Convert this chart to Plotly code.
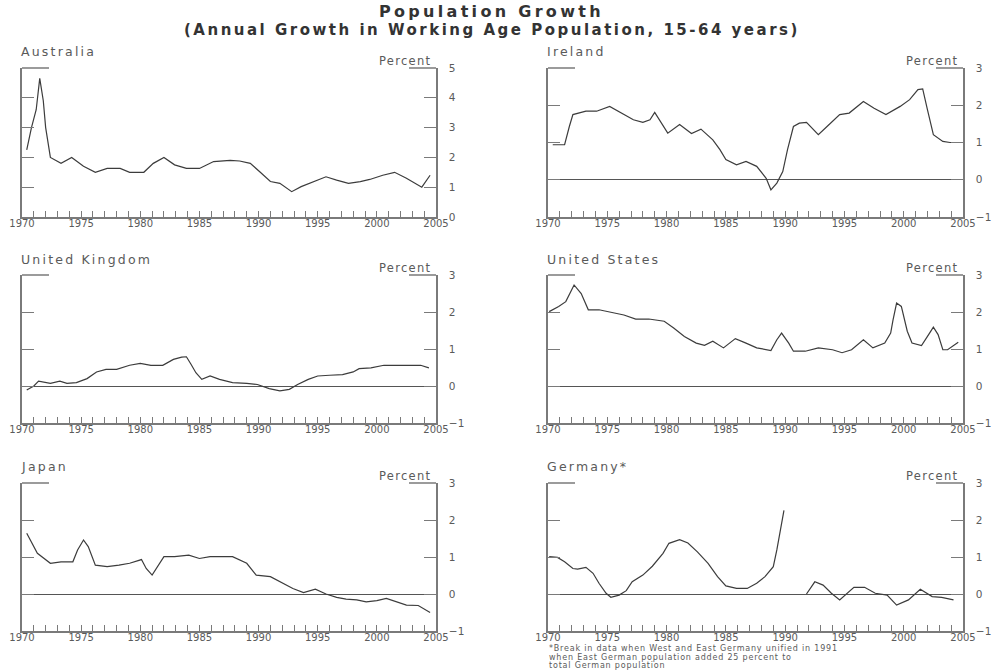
import plotly.graph_objects as go

# ---- Data: annual growth in working-age population (percent), time in years ----
australia_t = [1970.4, 1970.8, 1971.2, 1971.5, 1971.8, 1972.0, 1972.4, 1973.3, 1974.2, 1975.2,
               1976.2, 1977.2, 1978.3, 1979.1, 1980.3, 1981.1, 1982.0, 1982.9, 1983.9, 1985.0,
               1986.2, 1987.6, 1988.4, 1989.3, 1990.1, 1991.0, 1991.8, 1992.8, 1993.6, 1994.6,
               1995.7, 1996.6, 1997.6, 1998.6, 1999.4, 2000.5, 2001.5, 2002.5, 2003.5, 2003.8,
               2004.5]
australia_v = [2.25, 3.0, 3.6, 4.65, 3.9, 3.0, 2.0, 1.8, 2.0, 1.7,
               1.5, 1.63, 1.63, 1.5, 1.5, 1.8, 2.0, 1.75, 1.63, 1.63,
               1.86, 1.9, 1.88, 1.8, 1.52, 1.19, 1.13, 0.85, 1.02, 1.19,
               1.35, 1.24, 1.13, 1.19, 1.26, 1.4, 1.5, 1.3, 1.07, 1.0,
               1.4]

ireland_t = [1970.4, 1971.4, 1971.8, 1972.1, 1973.2, 1974.1, 1975.2, 1976.2, 1977.2, 1978.0,
             1978.6, 1979.0, 1979.4, 1980.1, 1981.1, 1982.1, 1982.9, 1983.9, 1984.5, 1985.0,
             1985.9, 1986.7, 1987.6, 1988.4, 1988.8, 1989.3, 1989.8, 1990.2, 1990.7, 1991.2,
             1991.8, 1992.8, 1993.6, 1994.6, 1995.4, 1996.6, 1997.5, 1998.5, 1999.7, 2000.5,
             2001.2, 2001.6, 2002.0, 2002.5, 2003.3, 2003.9, 2004.7]
ireland_v = [0.94, 0.94, 1.43, 1.75, 1.84, 1.84, 1.97, 1.79, 1.61, 1.54,
             1.61, 1.81, 1.61, 1.25, 1.48, 1.24, 1.36, 1.07, 0.81, 0.54,
             0.4, 0.49, 0.36, 0.04, -0.27, -0.09, 0.22, 0.81, 1.43, 1.52,
             1.54, 1.21, 1.45, 1.75, 1.79, 2.1, 1.92, 1.75, 1.97, 2.15,
             2.42, 2.44, 1.88, 1.21, 1.03, 1.0, 1.0]

uk_t = [1970.4, 1971.0, 1971.4, 1971.8, 1972.4, 1973.2, 1973.8, 1974.6, 1975.5, 1976.3,
        1977.1, 1978.0, 1979.1, 1980.0, 1980.9, 1981.9, 1982.8, 1983.5, 1983.9, 1984.3,
        1984.7, 1985.2, 1985.9, 1986.7, 1987.8, 1989.0, 1989.9, 1990.9, 1991.8, 1992.6,
        1993.3, 1994.2, 1995.0, 1996.0, 1997.1, 1998.0, 1998.5, 1999.5, 2000.6, 2001.6,
        2002.8, 2003.7, 2004.4]
uk_v = [-0.11, 0.0, 0.13, 0.11, 0.07, 0.13, 0.07, 0.09, 0.2, 0.38,
        0.45, 0.45, 0.56, 0.61, 0.56, 0.56, 0.72, 0.78, 0.79, 0.58,
        0.36, 0.18, 0.27, 0.18, 0.09, 0.07, 0.04, -0.07, -0.13, -0.09,
        0.04, 0.18, 0.27, 0.29, 0.31, 0.38, 0.47, 0.49, 0.56, 0.56,
        0.56, 0.56, 0.49]

us_t = [1970.1, 1970.9, 1971.5, 1972.2, 1972.8, 1973.4, 1974.3, 1975.5, 1976.4, 1977.4,
        1978.5, 1979.8, 1980.6, 1981.5, 1982.5, 1983.2, 1983.9, 1984.8, 1985.8, 1986.7,
        1987.6, 1988.8, 1989.3, 1989.7, 1990.3, 1990.7, 1991.7, 1992.8, 1994.0, 1994.8,
        1995.6, 1996.6, 1997.4, 1998.4, 1998.9, 1999.1, 1999.4, 1999.8, 2000.3, 2000.7,
        2001.5, 2002.1, 2002.5, 2002.9, 2003.3, 2003.7, 2004.6]
us_v = [2.01, 2.15, 2.28, 2.73, 2.5, 2.06, 2.06, 1.99, 1.92, 1.81,
        1.81, 1.75, 1.57, 1.34, 1.16, 1.1, 1.21, 1.03, 1.28, 1.16,
        1.03, 0.96, 1.25, 1.43, 1.16, 0.94, 0.94, 1.03, 0.98, 0.9,
        0.98, 1.25, 1.03, 1.16, 1.43, 1.79, 2.24, 2.15, 1.48, 1.16,
        1.09, 1.39, 1.59, 1.39, 0.98, 0.98, 1.18]

japan_t = [1970.4, 1971.0, 1971.3, 1972.4, 1973.3, 1974.3, 1974.7, 1975.2, 1975.6, 1976.2,
           1977.2, 1978.2, 1979.1, 1980.1, 1980.5, 1981.0, 1981.5, 1982.0, 1982.9, 1984.1,
           1985.0, 1985.9, 1986.9, 1987.8, 1989.0, 1989.8, 1991.0, 1992.1, 1992.9, 1993.8,
           1994.8, 1995.7, 1996.6, 1997.4, 1998.3, 1999.1, 2000.0, 2000.8, 2001.7, 2002.5,
           2003.5, 2003.9, 2004.5]
japan_v = [1.64, 1.28, 1.1, 0.83, 0.87, 0.87, 1.19, 1.46, 1.28, 0.78,
           0.74, 0.78, 0.83, 0.93, 0.69, 0.51, 0.78, 1.01, 1.01, 1.05,
           0.96, 1.01, 1.01, 1.01, 0.83, 0.51, 0.47, 0.29, 0.15, 0.04,
           0.13, 0.0, -0.09, -0.14, -0.16, -0.21, -0.18, -0.12, -0.21, -0.3,
           -0.31, -0.39, -0.5]

# Germany: series breaks at unification (None leaves the gap)
germany_t = [1970.1, 1970.8, 1971.4, 1972.1, 1972.5, 1973.2, 1973.8, 1974.3, 1974.9, 1975.3,
             1976.0, 1976.6, 1977.1, 1978.0, 1978.8, 1979.7, 1980.2, 1981.1, 1981.8, 1982.6,
             1983.5, 1984.3, 1985.0, 1985.9, 1986.8, 1987.6, 1988.3, 1989.0, 1989.3, 1989.5,
             1989.7, 1989.9, 1990.9,
             1991.8, 1992.5, 1993.2, 1993.9, 1994.6, 1995.2, 1995.8, 1996.7, 1997.6, 1998.6,
             1999.4, 2000.4, 2001.4, 2002.4, 2003.2, 2004.2]
germany_v = [1.01, 0.99, 0.87, 0.69, 0.67, 0.72, 0.56, 0.29, 0.02, -0.09,
             -0.03, 0.09, 0.33, 0.51, 0.75, 1.1, 1.37, 1.47, 1.38, 1.14,
             0.83, 0.47, 0.22, 0.15, 0.15, 0.29, 0.47, 0.74, 1.19, 1.55,
             1.99, 2.26, None,
             0.0, 0.33, 0.24, 0.02, -0.16, 0.0, 0.18, 0.18, 0.02, -0.03,
             -0.3, -0.16, 0.13, -0.07, -0.09, -0.16]

panel_names = ["Australia", "Ireland", "United Kingdom", "United States", "Japan", "Germany*"]
panel_t = [australia_t, ireland_t, uk_t, us_t, japan_t, germany_t]
panel_v = [australia_v, ireland_v, uk_v, us_v, japan_v, germany_v]
panel_yrange = [(0, 5), (-1, 3), (-1, 3), (-1, 3), (-1, 3), (-1, 3)]
year_ticks = list(range(1970, 2006, 5))

footnote_lines = ["*Break in data when West and East Germany unified in 1991",
                  "when East German population added 25 percent to",
                  "total German population"]

# ---- Layout geometry (pixels in a 996 x 671 page) ----
W, H = 996, 671
col_x = [(22, 436), (548, 963)]
row_y = [(68, 217), (275, 423), (483, 631)]

AXIS_COL = "#7a7a7a"
TEXT_COL = "#5a5a5a"
LINE_COL = "#3c3c3c"
FONT = "DejaVu Sans"


def spaced(text, px):
    """Wrap text in a span with extra letter spacing (wide lettering)."""
    return f'<span style="letter-spacing:{px}px">{text}</span>'


fig = go.Figure()
layout = dict(
    template="none",
    width=W, height=H,
    margin=dict(l=0, r=0, t=0, b=0, pad=0),
    paper_bgcolor="white", plot_bgcolor="white",
    showlegend=False,
    font=dict(family=FONT, color=TEXT_COL),
)
annotations = []
shapes = []

for i, name in enumerate(panel_names):
    r, c = divmod(i, 2)
    x0, x1 = col_x[c]
    ytop, ybot = row_y[r]
    xd = [x0 / W, x1 / W]
    yd = [1 - ybot / H, 1 - ytop / H]
    n = i + 1
    sfx = "" if n == 1 else str(n)
    xa, ya = f"x{sfx}", f"y{sfx}"
    fig.add_trace(go.Scatter(
        x=panel_t[i], y=panel_v[i], mode="lines",
        line=dict(color=LINE_COL, width=1.2),
        connectgaps=False, xaxis=xa, yaxis=ya, hoverinfo="skip",
    ))
    lo, hi = panel_yrange[i]
    layout[f"xaxis{sfx}"] = dict(
        domain=xd, anchor=ya, range=[1970, 2005], automargin=False,
        tickvals=year_ticks, ticktext=[str(y) for y in year_ticks],
        ticks="inside", ticklen=6, tickcolor=AXIS_COL, tickwidth=1,
        minor=dict(dtick=1, tick0=1970, ticks="inside", ticklen=6,
                   tickcolor=AXIS_COL, tickwidth=1, showgrid=False),
        showline=True, linecolor=AXIS_COL, linewidth=1.5, mirror=False,
        showgrid=False, zeroline=False,
        tickfont=dict(size=10, color=TEXT_COL, family=FONT),
        ticklabelstandoff=-4,
        fixedrange=True,
    )
    layout[f"yaxis{sfx}"] = dict(
        domain=yd, anchor=xa, side="right", range=[lo, hi], automargin=False,
        tickvals=list(range(lo, hi + 1)),
        ticks="inside", ticklen=12, tickcolor=AXIS_COL, tickwidth=1,
        showline=True, linecolor=AXIS_COL, linewidth=1.5, mirror="ticks",
        showgrid=False,
        zeroline=True, zerolinecolor="#555555", zerolinewidth=1,
        tickfont=dict(size=10.5, color=TEXT_COL, family=FONT),
        ticklabelstandoff=9,
        fixedrange=True,
    )
    # short top-corner segments of the frame
    seg = 27 / (x1 - x0)
    for a, b in [(0, seg), (1 - seg, 1)]:
        shapes.append(dict(type="line", xref=f"{xa} domain", yref=f"{ya} domain",
                           x0=a, x1=b, y0=1, y1=1,
                           line=dict(color=AXIS_COL, width=1.5)))
    # panel title and unit label
    annotations.append(dict(text=spaced(name, 2.2), xref="paper", yref="paper",
                            x=(x0 - 3) / W, y=1 - (ytop - 16) / H,
                            xanchor="left", yanchor="middle", showarrow=False,
                            font=dict(size=12.5, color=TEXT_COL, family=FONT)))
    annotations.append(dict(text=spaced("Percent", 1.3), xref="paper", yref="paper",
                            x=(x1 - 3) / W, y=1 - (ytop - 7) / H,
                            xanchor="right", yanchor="middle", showarrow=False,
                            font=dict(size=11.5, color=TEXT_COL, family=FONT)))

# main titles
annotations.append(dict(text="<b>" + spaced("Population Growth", 3.3) + "</b>",
                        xref="paper", yref="paper",
                        x=491 / W, y=1 - 12 / H, xanchor="center", yanchor="middle",
                        showarrow=False, font=dict(size=16, color="#333333", family=FONT)))
annotations.append(dict(text="<b>" + spaced("(Annual Growth in Working Age Population, 15-64 years)", 2.5) + "</b>",
                        xref="paper", yref="paper",
                        x=492 / W, y=1 - 30 / H, xanchor="center", yanchor="middle",
                        showarrow=False, font=dict(size=15, color="#333333", family=FONT)))

# footnote under the Germany panel
for k, line in enumerate(footnote_lines):
    annotations.append(dict(text=spaced(line, 0.8), xref="paper", yref="paper",
                            x=547 / W, y=1 - (648.5 + 8.5 * k) / H,
                            xanchor="left", yanchor="middle", showarrow=False,
                            font=dict(size=8, color=TEXT_COL, family=FONT)))

layout["annotations"] = annotations
layout["shapes"] = shapes
fig.update_layout(**layout)
fig.write_html("out.html")
